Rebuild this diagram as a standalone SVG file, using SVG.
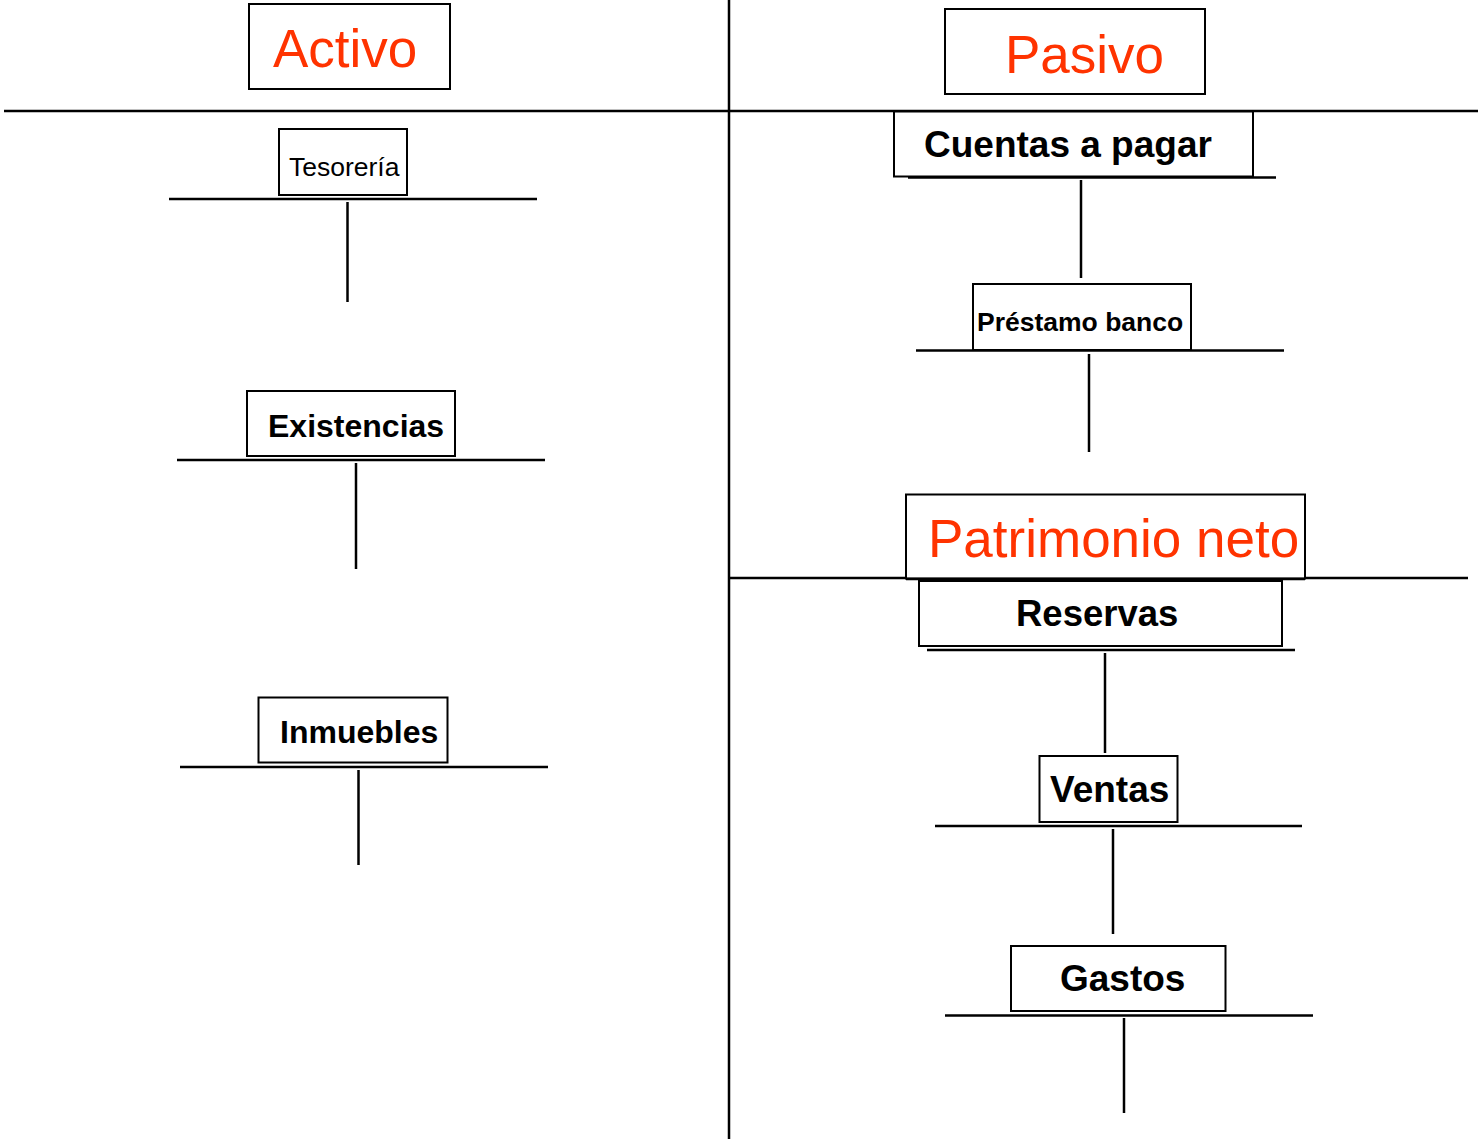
<svg xmlns="http://www.w3.org/2000/svg" width="1478" height="1139" viewBox="0 0 1478 1139">
<style>
  .box { fill: #fff; stroke: #000; stroke-width: 2; }
  .ln { stroke: #000; stroke-width: 2.5; fill: none; }
  .title { font-family: "Liberation Sans", Arial, sans-serif; font-size: 53px; fill: #FF3300; }
  .lbl { font-family: "Liberation Sans", Arial, sans-serif; font-weight: bold; fill: #000; }
  .reg { font-family: "Liberation Sans", Arial, sans-serif; fill: #000; }
</style>
<rect width="1478" height="1139" fill="#fff"/>
<g id="connectors">
  <line class="ln" x1="729" y1="0" x2="729" y2="1139"/>
  <line class="ln" x1="4" y1="111" x2="1478" y2="111"/>
  <line class="ln" x1="729" y1="578" x2="1468" y2="578"/>
  <line class="ln" x1="169" y1="199" x2="537" y2="199"/>
  <line class="ln" x1="347.5" y1="202" x2="347.5" y2="302"/>
  <line class="ln" x1="177" y1="460" x2="545" y2="460"/>
  <line class="ln" x1="356" y1="463" x2="356" y2="569"/>
  <line class="ln" x1="180" y1="767" x2="548" y2="767"/>
  <line class="ln" x1="358.5" y1="770" x2="358.5" y2="865"/>
  <line class="ln" x1="908" y1="177.5" x2="1276" y2="177.5"/>
  <line class="ln" x1="1081" y1="180" x2="1081" y2="278"/>
  <line class="ln" x1="916" y1="350.5" x2="1284" y2="350.5"/>
  <line class="ln" x1="1089" y1="354" x2="1089" y2="452"/>
  <line class="ln" x1="927" y1="650" x2="1295" y2="650"/>
  <line class="ln" x1="1105" y1="653" x2="1105" y2="753"/>
  <line class="ln" x1="935" y1="826" x2="1302" y2="826"/>
  <line class="ln" x1="1113" y1="829" x2="1113" y2="934"/>
  <line class="ln" x1="945" y1="1015.5" x2="1313" y2="1015.5"/>
  <line class="ln" x1="1124" y1="1018" x2="1124" y2="1113"/>
</g>
<g id="activo">
  <rect class="box" x="249" y="4" width="201" height="85"/>
  <text class="title" x="273" y="67">Activo</text>
</g>
<g id="pasivo">
  <rect class="box" x="945" y="9" width="260" height="85"/>
  <text class="title" x="1005" y="73">Pasivo</text>
</g>
<g id="tesoreria">
  <rect class="box" x="279" y="129" width="128" height="66"/>
  <text class="reg" x="289" y="176" font-size="26.5">Tesorería</text>
</g>
<g id="existencias">
  <rect class="box" x="247" y="391" width="208" height="65"/>
  <text class="lbl" x="268" y="437" font-size="32">Existencias</text>
</g>
<g id="inmuebles">
  <rect class="box" x="258.5" y="697.5" width="189" height="65"/>
  <text class="lbl" x="280" y="743" font-size="32">Inmuebles</text>
</g>
<g id="cuentas">
  <rect class="box" x="894" y="111.5" width="359" height="65"/>
  <text class="lbl" x="924" y="157" font-size="37">Cuentas a pagar</text>
</g>
<g id="prestamo">
  <rect class="box" x="973" y="284" width="218" height="66"/>
  <text class="lbl" x="977" y="331" font-size="26.5">Préstamo banco</text>
</g>
<g id="patrimonio">
  <rect class="box" x="906" y="494.5" width="399" height="84"/>
  <line class="ln" x1="906" y1="579" x2="1305" y2="579" stroke-width="3"/>
  <text class="title" x="928" y="557">Patrimonio neto</text>
</g>
<g id="reservas">
  <rect class="box" x="919" y="581" width="363" height="65"/>
  <text class="lbl" x="1016" y="626" font-size="36.5">Reservas</text>
</g>
<g id="ventas">
  <rect class="box" x="1039.5" y="756" width="138" height="66"/>
  <text class="lbl" x="1050" y="802" font-size="37">Ventas</text>
</g>
<g id="gastos">
  <rect class="box" x="1011" y="946" width="214.5" height="65"/>
  <text class="lbl" x="1060" y="991" font-size="37">Gastos</text>
</g>
</svg>
